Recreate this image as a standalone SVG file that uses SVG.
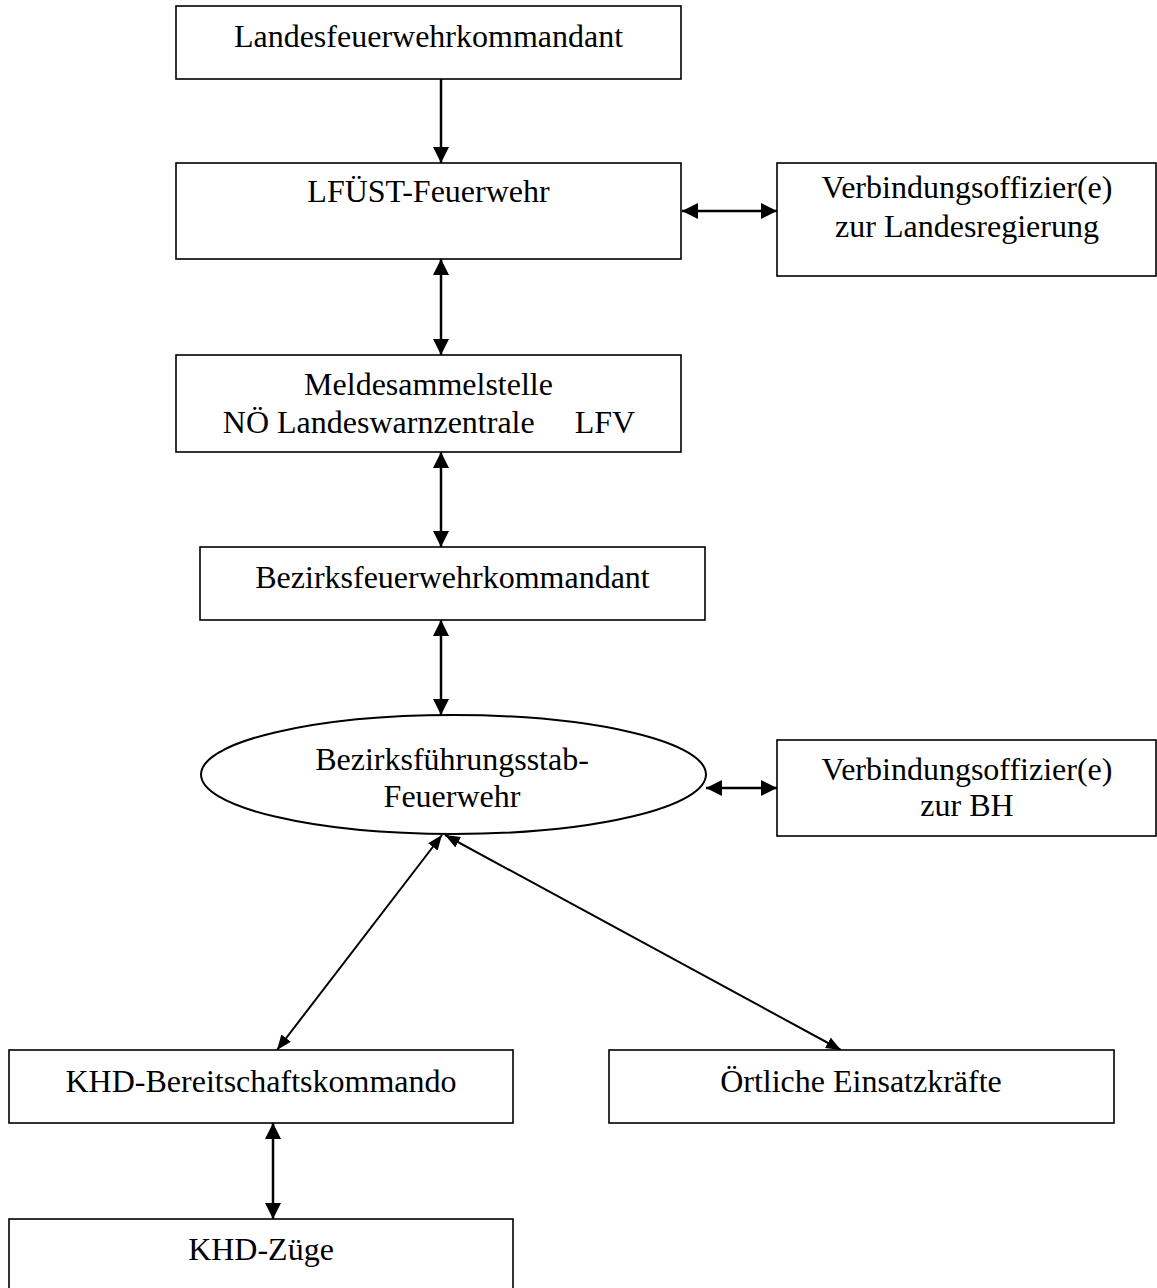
<svg xmlns="http://www.w3.org/2000/svg" width="1157" height="1288" viewBox="0 0 1157 1288">
<style>
.box{fill:#fff;stroke:#000;stroke-width:1.6}
.ell{fill:#fff;stroke:#000;stroke-width:2}
.t{font-family:"Liberation Serif","Times New Roman",serif;font-size:32px;fill:#000;text-anchor:middle}
.c{stroke:#000;stroke-width:2.5;fill:none}
.d{stroke:#000;stroke-width:2;fill:none}
</style>
<defs>
<marker id="ah" markerUnits="userSpaceOnUse" markerWidth="16" markerHeight="16" refX="16" refY="8" orient="auto-start-reverse" viewBox="0 0 16 16">
<path d="M0,0 L16,8 L0,16 z" fill="#000"/>
</marker>
<marker id="ahs" markerUnits="userSpaceOnUse" markerWidth="15" markerHeight="12" refX="15" refY="6" orient="auto-start-reverse" viewBox="0 0 15 12">
<path d="M0,0 L15,6 L0,12 z" fill="#000"/>
</marker>
</defs>
<rect width="1157" height="1288" fill="#fff"/>
<g id="connectors">
<line class="c" x1="441" y1="79" x2="441" y2="163" marker-end="url(#ah)"/>
<line class="c" x1="682" y1="211" x2="777" y2="211" marker-start="url(#ah)" marker-end="url(#ah)"/>
<line class="c" x1="441" y1="259" x2="441" y2="355" marker-start="url(#ah)" marker-end="url(#ah)"/>
<line class="c" x1="441" y1="452" x2="441" y2="547" marker-start="url(#ah)" marker-end="url(#ah)"/>
<line class="c" x1="441" y1="620" x2="441" y2="715" marker-start="url(#ah)" marker-end="url(#ah)"/>
<line class="c" x1="706" y1="788" x2="777" y2="788" marker-start="url(#ah)" marker-end="url(#ah)"/>
<line class="d" x1="442" y1="835" x2="277" y2="1050" marker-start="url(#ahs)" marker-end="url(#ahs)"/>
<line class="d" x1="445" y1="835" x2="841" y2="1050" marker-start="url(#ahs)" marker-end="url(#ahs)"/>
<line class="c" x1="273" y1="1123" x2="273" y2="1219" marker-start="url(#ah)" marker-end="url(#ah)"/>
</g>
<g id="landesfeuerwehrkommandant">
<rect class="box" x="176" y="6" width="505" height="73"/>
<text class="t" x="428.5" y="47">Landesfeuerwehrkommandant</text>
</g>
<g id="lfuest">
<rect class="box" x="176" y="163" width="505" height="96"/>
<text class="t" x="428.5" y="202">LFÜST-Feuerwehr</text>
</g>
<g id="vo-landesregierung">
<rect class="box" x="777" y="163" width="379" height="113"/>
<text class="t" x="967" y="198">Verbindungsoffizier(e)</text>
<text class="t" x="967" y="237">zur Landesregierung</text>
</g>
<g id="meldesammelstelle">
<rect class="box" x="176" y="355" width="505" height="97"/>
<text class="t" x="428.5" y="395">Meldesammelstelle</text>
<text class="t" x="429" y="433" xml:space="preserve" style="white-space:pre">NÖ Landeswarnzentrale     LFV</text>
</g>
<g id="bezirksfeuerwehrkommandant">
<rect class="box" x="200" y="547" width="505" height="73"/>
<text class="t" x="452.5" y="588">Bezirksfeuerwehrkommandant</text>
</g>
<g id="bezirksfuehrungsstab">
<ellipse class="ell" cx="453.5" cy="774.5" rx="252.5" ry="59.5"/>
<text class="t" x="452" y="770">Bezirksführungsstab-</text>
<text class="t" x="452" y="807">Feuerwehr</text>
</g>
<g id="vo-bh">
<rect class="box" x="777" y="740" width="379" height="96"/>
<text class="t" x="967" y="780">Verbindungsoffizier(e)</text>
<text class="t" x="967" y="816">zur BH</text>
</g>
<g id="khd-bereitschaftskommando">
<rect class="box" x="9" y="1050" width="504" height="73"/>
<text class="t" x="261" y="1092">KHD-Bereitschaftskommando</text>
</g>
<g id="oertliche-einsatzkraefte">
<rect class="box" x="609" y="1050" width="505" height="73"/>
<text class="t" x="861" y="1092">Örtliche Einsatzkräfte</text>
</g>
<g id="khd-zuege">
<rect class="box" x="9" y="1219" width="504" height="96"/>
<text class="t" x="261" y="1260">KHD-Züge</text>
</g>
</svg>
